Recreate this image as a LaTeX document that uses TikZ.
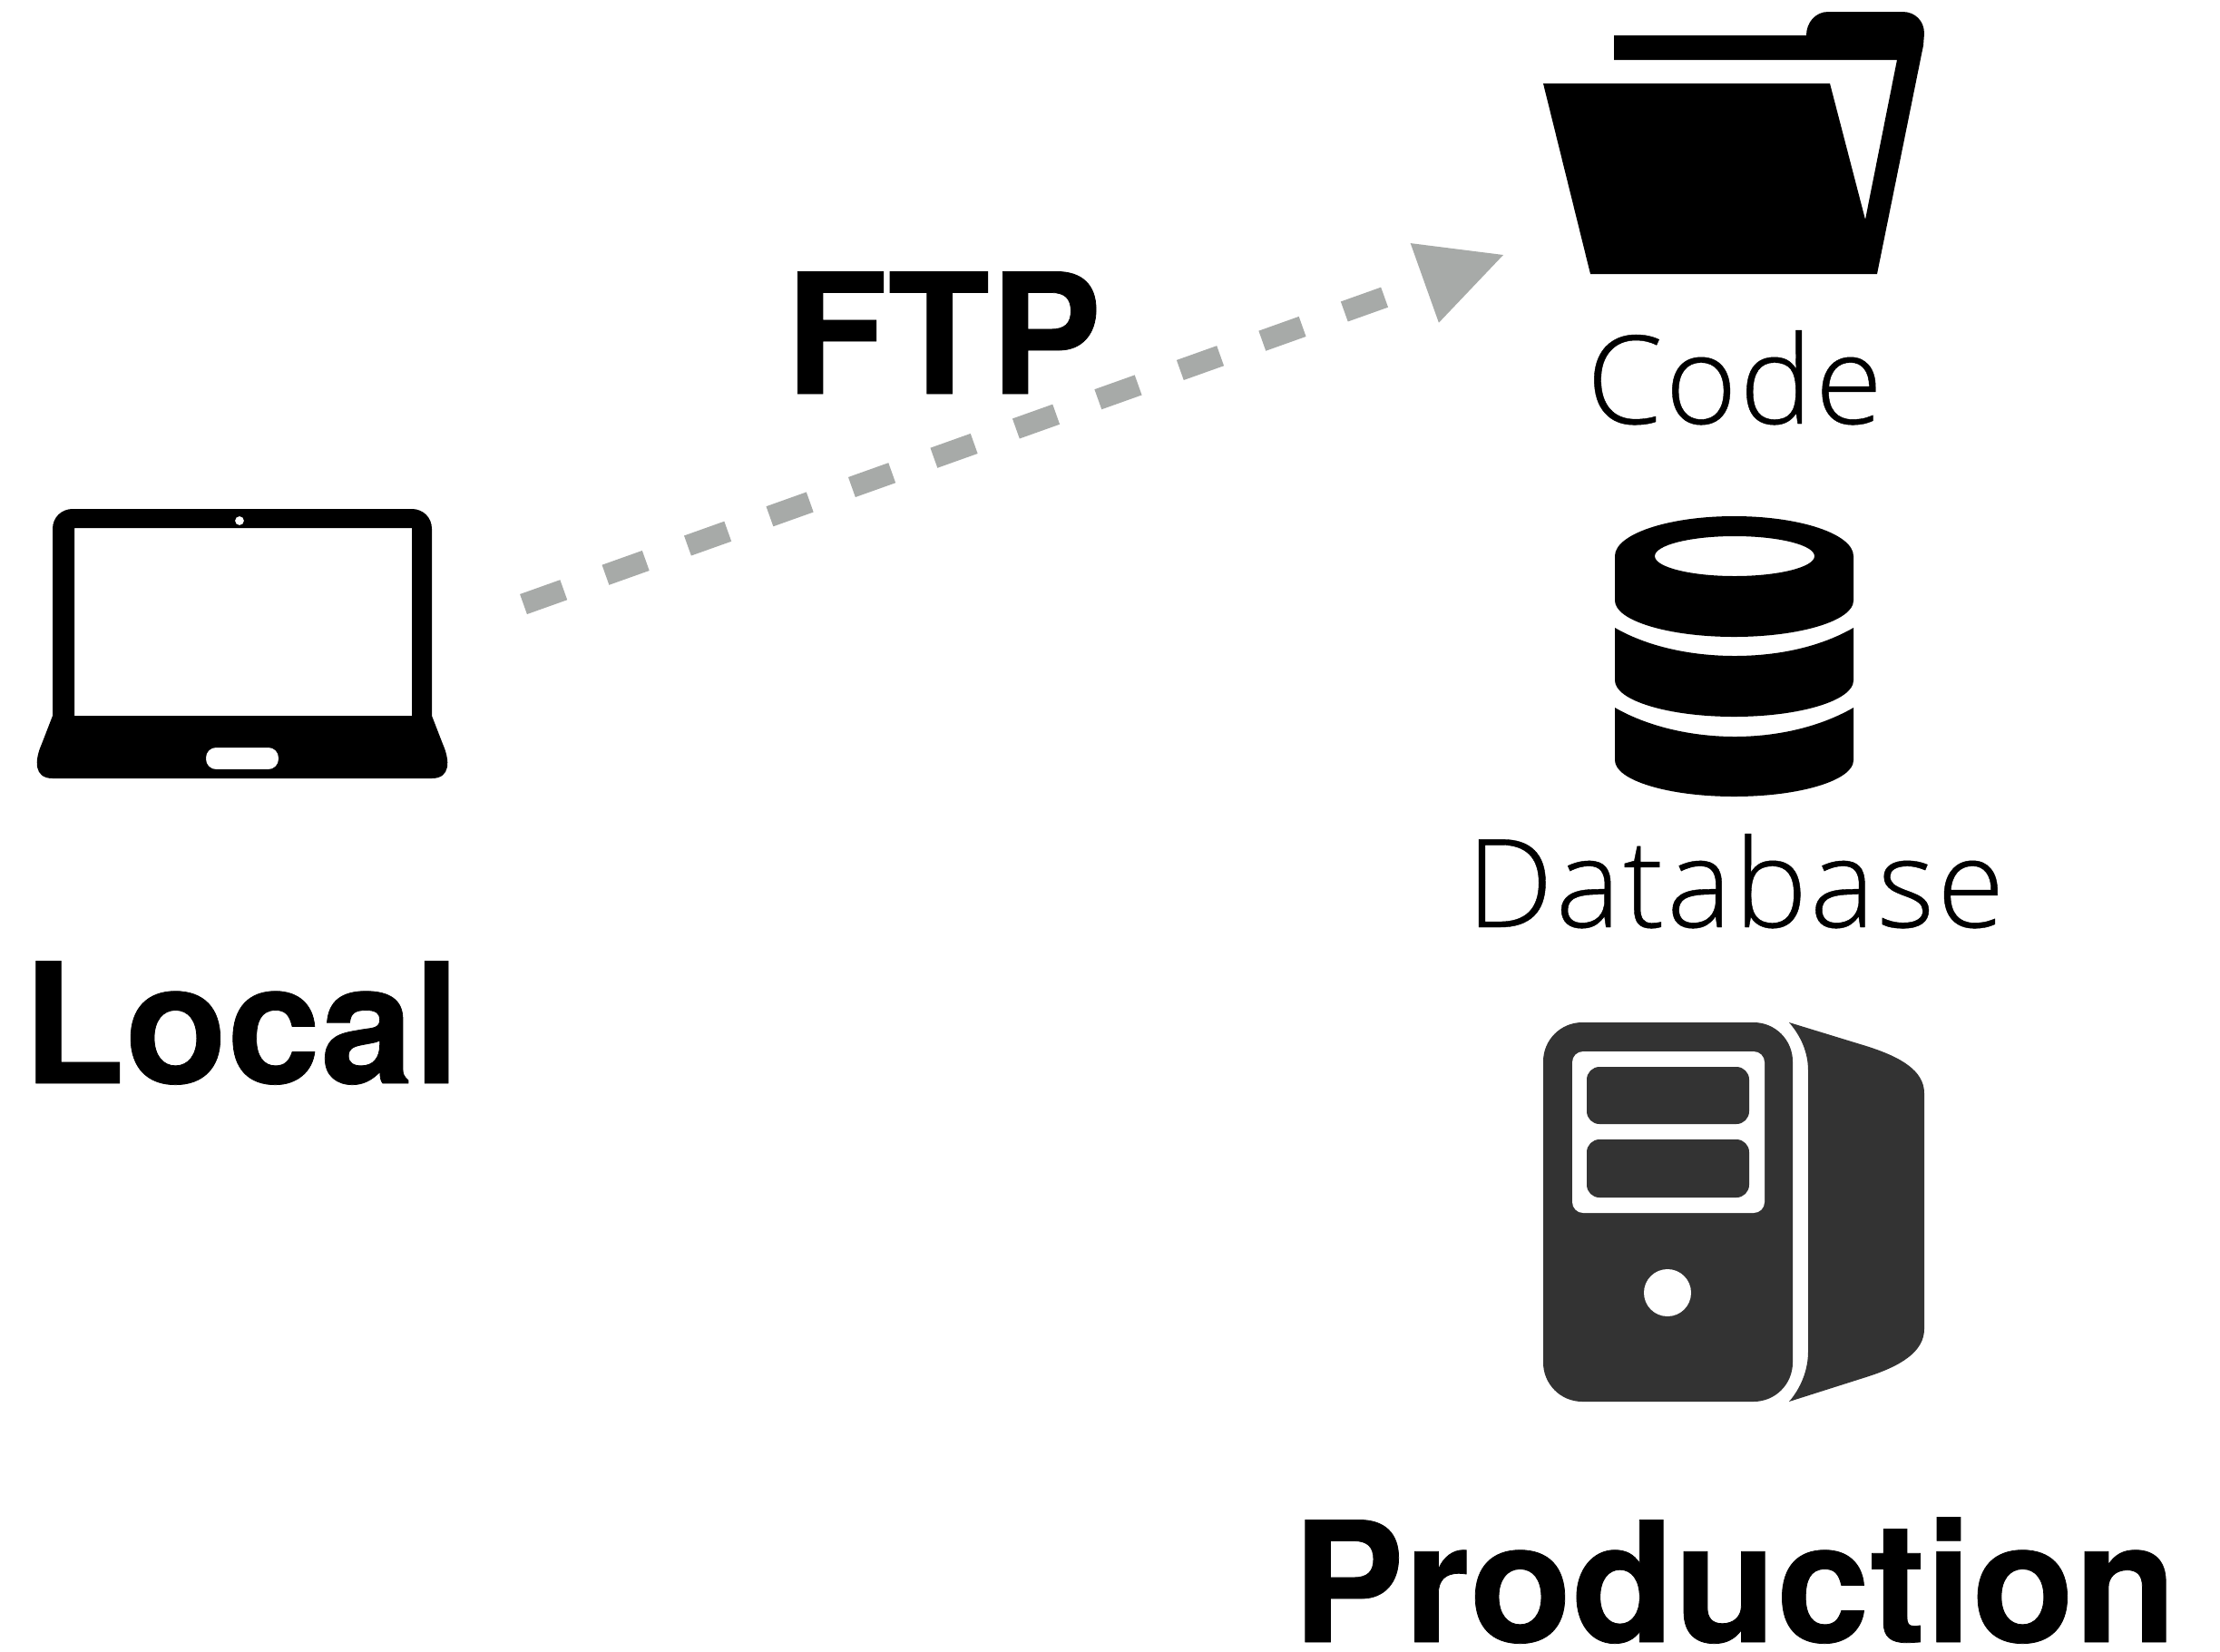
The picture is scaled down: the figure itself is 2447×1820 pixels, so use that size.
\documentclass[tikz,border=0pt]{standalone}
\usepackage{fontspec}
\usepackage{xcolor}
\usetikzlibrary{arrows.meta}
\setmainfont{TeX Gyre Heros}[BoldFeatures={FakeBold=0.4}]
\newfontfamily\lightfont{Open Sans Light}[LetterSpace=2,FakeBold=0.3]
\definecolor{ftpgray}{HTML}{A7AAA8}
\definecolor{serverdark}{HTML}{333333}

\tikzset{
	boldlabel/.style={font=\fontsize{52.5}{60}\selectfont\bfseries, anchor=base, inner sep=0pt},
	lightlabel/.style={font=\fontsize{38.5}{44}\selectfont\lightfont, anchor=base, inner sep=0pt},
	ftpline/.style={draw=ftpgray, line width=0.234cm, dash pattern=on 0.47cm off 0.49cm, -{Triangle[length=0.92cm,width=0.93cm,line width=0pt,fill=ftpgray]}},
}

\begin{document}
\begin{tikzpicture}[x=0.01cm,y=-0.01cm]
	\useasboundingbox (0,0) rectangle (2447,1820);

	% laptop
	\fill[black,even odd rule] (58,789) -- (58,583) .. controls (58,570) and (68,561) .. (80,561) -- (454,561)
		.. controls (466,561) and (476,570) .. (476,583) -- (476,789)
		-- (488,820) .. controls (496,838) and (497,858) .. (476,858) -- (58,858) .. controls (37,858) and (38,838) .. (46,820) -- cycle
		(82,582) rectangle (454,789)
		(264,574) circle (5)
		[rounded corners=0.11cm] (227,824) rectangle (307,848);

	% folder
	\fill[black] (1701,92) -- (2017,92) -- (2056,242) -- (2091,66) -- (1779,66) -- (1779,39) -- (1991,39)
		.. controls (1991,25) and (2001,13) .. (2015,13) -- (2097,13) .. controls (2111,13) and (2121,23) .. (2121,37)
		-- (2120,50) -- (2069,302) -- (1753,302) -- cycle;

	% database
	\fill[black,even odd rule] (1780,613) arc[start angle=180,end angle=0,x radius=131.5,y radius=-44] -- (2043,662)
		arc[start angle=0,end angle=180,x radius=131.5,y radius=40] -- cycle
		(1912,613) ellipse[x radius=88,y radius=22];
	\fill[black] (1780,692) .. controls (1820,715) and (1870,723) .. (1912,723) .. controls (1955,723) and (2003,715) .. (2043,692)
		-- (2043,750) arc[start angle=0,end angle=180,x radius=131.5,y radius=40] -- cycle;
	\fill[black] (1780,780) .. controls (1820,803) and (1870,812) .. (1912,812) .. controls (1955,812) and (2003,803) .. (2043,780)
		-- (2043,838) arc[start angle=0,end angle=180,x radius=131.5,y radius=40] -- cycle;

	% server
	\fill[serverdark,rounded corners=0.43cm] (1701,1127) rectangle (1976,1545);
	\fill[white,rounded corners=0.12cm] (1733,1159) rectangle (1945,1337);
	\fill[serverdark,rounded corners=0.14cm] (1749,1176) rectangle (1928,1239);
	\fill[serverdark,rounded corners=0.14cm] (1749,1256) rectangle (1928,1320);
	\fill[white] (1838,1425) circle (26);
	\fill[serverdark] (1972,1127) -- (2057,1153) .. controls (2095,1165) and (2121,1180) .. (2121,1205) -- (2121,1465)
		.. controls (2121,1490) and (2095,1506) .. (2057,1518) -- (1972,1545)
		.. controls (1985,1530) and (1993,1510) .. (1993,1490) -- (1993,1180) .. controls (1993,1160) and (1985,1142) .. (1972,1127) -- cycle;

	% connector
	\coordinate (ftpfrom) at (577,666);
	\coordinate (ftpto) at (1657,281);
	\draw[ftpline] (ftpfrom) -- (ftpto);

	% labels
	\node[boldlabel] (ftplabel) at (1040,434) {FTP};
	\node[boldlabel] (locallabel) at (266,1194) {Local};
	\node[boldlabel] (productionlabel) at (1912,1810) {Production};
	\node[lightlabel] (codelabel) at (1912,467) {Code};
	\node[lightlabel] (databaselabel) at (1913,1022) {Database};
\end{tikzpicture}
\end{document}
